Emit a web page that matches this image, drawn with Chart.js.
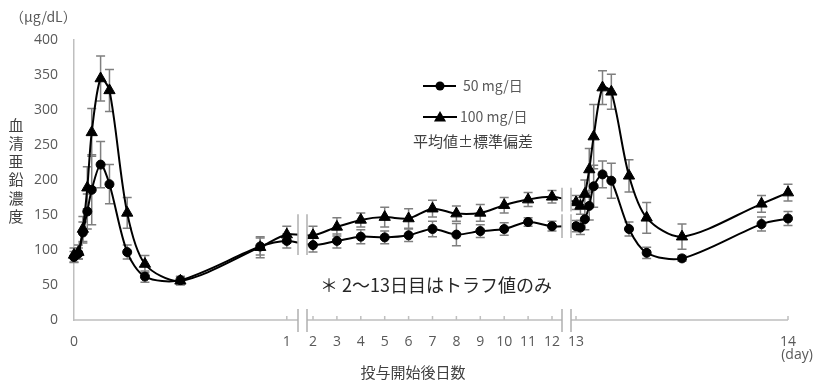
<!DOCTYPE html>
<html lang="ja">
<head>
<meta charset="utf-8">
<title>血清亜鉛濃度の推移</title>
<script src="https://cdn.jsdelivr.net/npm/chart.js@4.4.1/dist/chart.umd.min.js"></script>
<style>
    html, body { margin: 0; padding: 0; background: #fff; }
    #wrap { width: 817px; height: 386px; }
</style>
</head>
<body>
<div id="wrap"><canvas id="znChart" width="817" height="386"></canvas></div>
<script>
// --- DATA ---
// sampling times (hours after dose) on day 0 and again on day 13
const sampleHours = [0, 0.5, 1, 1.5, 2, 3, 4, 6, 8, 12, 21, 24];
// trough only on days 2-12
const troughDays = [2, 3, 4, 5, 6, 7, 8, 9, 10, 11, 12];

// 50 mg/day (mean, SD)
const mean50First  = [90, 95, 125, 155, 186, 222, 194, 97, 62, 57, 105, 113];
const sd50First    = [8, 8, 15, 25, 50, 33, 28, 10, 8, 5, 12, 10];
const mean50Trough = [107, 113, 119, 118, 121, 130, 122, 127, 130, 140, 134];
const sd50Trough   = [10, 10, 10, 9, 9, 11, 16, 9, 9, 6, 7];
const mean50Last   = [134, 132, 144, 163, 191, 208, 199, 130, 96, 88, 137, 145];
const sd50Last     = [8, 10, 15, 20, 30, 19, 25, 10, 8, 4, 10, 10];

// 100 mg/day (mean, SD)
const mean100First  = [93, 97, 130, 189, 268, 345, 328, 153, 80, 56, 104, 122];
const sd100First    = [10, 10, 18, 30, 34, 32, 30, 22, 12, 6, 15, 12];
const mean100Trough = [121, 133, 143, 147, 145, 159, 152, 153, 164, 172, 176];
const sd100Trough   = [13, 13, 10, 14, 14, 12, 11, 12, 11, 10, 9];
const mean100Last   = [168, 163, 180, 215, 262, 332, 326, 206, 146, 119, 166, 182];
const sd100Last     = [10, 12, 20, 30, 46, 24, 25, 23, 22, 18, 12, 12];

const seriesNames = ['50 mg/日', '100 mg/日'];
const tickDays   = [0, 1, 2, 3, 4, 5, 6, 7, 8, 9, 10, 11, 12, 13, 14];
const tickLabels = ['0', '1', '2', '3', '4', '5', '6', '7', '8', '9', '10', '11', '12', '13', '14'];
const yTicks = [0, 50, 100, 150, 200, 250, 300, 350, 400];

// --- BROKEN X AXIS ---
// day 0-1 and day 13-14 are stretched, days 2-12 squeezed together
function dayToAxis(day) {
    if (day <= 1) return day * 212.8;
    if (day <= 12) return 239 + (day - 2) * 23.9;
    return 502 + (day - 13) * 212;
}
const axisBreaks = [[224, 233], [488, 497]];

function buildPoints(first, trough, last) {
    const pts = [];
    sampleHours.forEach((h, i) => pts.push({ x: dayToAxis(h / 24), y: first[i] }));
    troughDays.forEach((d, i) => pts.push({ x: dayToAxis(d), y: trough[i] }));
    sampleHours.forEach((h, i) => pts.push({ x: dayToAxis(13 + h / 24), y: last[i] }));
    return pts;
}

const GRAY_TEXT = '#595959';
const AXIS_GRAY = '#bfbfbf';
const JP_FONT = '"Noto Sans CJK JP", "Noto Sans", sans-serif';
const NUM_FONT = '"Open Sans", "Noto Sans", sans-serif';

// --- PLUGINS ---
// error bars (mean ± SD), drawn behind the lines
const errorBarPlugin = {
    id: 'errorBars',
    beforeDatasetsDraw(chart) {
        const ctx = chart.ctx;
        const y = chart.scales.y;
        ctx.save();
        ctx.strokeStyle = '#7f7f7f';
        ctx.lineWidth = 1.5;
        chart.data.datasets.forEach((ds, i) => {
            chart.getDatasetMeta(i).data.forEach((pt, j) => {
                const top = y.getPixelForValue(ds.data[j].y + ds.sd[j]);
                const bot = y.getPixelForValue(ds.data[j].y - ds.sd[j]);
                ctx.beginPath();
                ctx.moveTo(pt.x, top); ctx.lineTo(pt.x, bot);
                ctx.moveTo(pt.x - 4.5, top); ctx.lineTo(pt.x + 4.5, top);
                ctx.moveTo(pt.x - 4.5, bot); ctx.lineTo(pt.x + 4.5, bot);
                ctx.stroke();
            });
        });
        ctx.restore();
    }
};

// white gaps + double bars where the x axis is broken, and the x axis itself
const axisBreakPlugin = {
    id: 'axisBreaks',
    afterDatasetsDraw(chart) {
        const ctx = chart.ctx;
        const area = chart.chartArea;
        const x = chart.scales.x;
        const y = chart.scales.y;
        // value ranges where the break bars are shown inside the plot
        const plotBars = [[[93, 151]], [[155, 189], [117, 151]]];
        ctx.save();
        ctx.fillStyle = '#fff';
        axisBreaks.forEach(b => {
            const x0 = x.getPixelForValue(b[0]);
            const x1 = x.getPixelForValue(b[1]);
            ctx.fillRect(x0, area.top - 10, x1 - x0, area.bottom - area.top + 9);
        });

        ctx.strokeStyle = AXIS_GRAY;
        ctx.lineWidth = 1.5;
        // axis line in three pieces
        const edges = [area.left];
        axisBreaks.forEach(b => edges.push(x.getPixelForValue(b[0]), x.getPixelForValue(b[1])));
        edges.push(area.right);
        ctx.beginPath();
        for (let k = 0; k < edges.length; k += 2) {
            ctx.moveTo(edges[k], area.bottom);
            ctx.lineTo(edges[k + 1], area.bottom);
        }
        // small inward tick marks
        tickDays.slice(1).forEach(d => {
            const px = x.getPixelForValue(dayToAxis(d));
            ctx.moveTo(px, area.bottom);
            ctx.lineTo(px, area.bottom - 4);
        });
        ctx.stroke();

        // break bars
        ctx.strokeStyle = '#b0b0b0';
        ctx.beginPath();
        axisBreaks.forEach((b, k) => {
            b.forEach(v => {
                const px = x.getPixelForValue(v);
                ctx.moveTo(px, area.bottom - 11);
                ctx.lineTo(px, area.bottom + 12);
                plotBars[k].forEach(r => {
                    ctx.moveTo(px, y.getPixelForValue(r[0]));
                    ctx.lineTo(px, y.getPixelForValue(r[1]));
                });
            });
        });
        ctx.stroke();
        ctx.restore();
    }
};

function drawTriangle(ctx, cx, cy, r) {
    ctx.beginPath();
    ctx.moveTo(cx, cy - r);
    ctx.lineTo(cx + r * 0.866, cy + r * 0.5);
    ctx.lineTo(cx - r * 0.866, cy + r * 0.5);
    ctx.closePath();
    ctx.fill();
}

// legend, axis titles and note
const textPlugin = {
    id: 'texts',
    afterDraw(chart) {
        const ctx = chart.ctx;
        ctx.save();
        ctx.fillStyle = '#000';
        ctx.strokeStyle = '#000';
        ctx.lineWidth = 2;

        // legend samples
        ctx.beginPath();
        ctx.moveTo(423, 86); ctx.lineTo(456, 86);
        ctx.moveTo(423, 117); ctx.lineTo(457, 117);
        ctx.stroke();
        ctx.beginPath();
        ctx.arc(440, 86, 4.5, 0, Math.PI * 2);
        ctx.fill();
        drawTriangle(ctx, 440, 118, 7);

        ctx.textBaseline = 'middle';
        ctx.textAlign = 'left';
        ctx.fillStyle = GRAY_TEXT;
        ctx.font = '14px ' + JP_FONT;
        ctx.fillText(seriesNames[0], 463, 86);
        ctx.fillText(seriesNames[1], 460, 117);
        ctx.fillStyle = '#404040';
        ctx.font = '15px ' + JP_FONT;
        ctx.fillText('平均値±標準偏差', 413, 141);

        // unit
        ctx.fillStyle = GRAY_TEXT;
        ctx.font = '14px ' + JP_FONT;
        ctx.fillText('（μg/dL）', 10, 17);

        // vertical y title
        ctx.fillStyle = '#404040';
        ctx.font = '15px ' + JP_FONT;
        ctx.textAlign = 'center';
        Array.from('血清亜鉛濃度').forEach((c, i) => ctx.fillText(c, 16, 125 + i * 18.2));

        // x title and unit
        ctx.fillText('投与開始後日数', 413, 372);
        ctx.fillStyle = GRAY_TEXT;
        ctx.font = '14px ' + NUM_FONT;
        ctx.fillText('(day)', 797, 355);

        // note on trough days
        ctx.fillStyle = '#262626';
        ctx.font = '18px ' + JP_FONT;
        ctx.textAlign = 'left';
        ctx.fillText('＊ 2～13日目はトラフ値のみ', 320, 285);
        ctx.restore();
    }
};

// --- CHART ---
const canvas = document.getElementById('znChart');
new Chart(canvas.getContext('2d'), {
    type: 'line',
    data: {
        datasets: [{
            label: seriesNames[0],
            data: buildPoints(mean50First, mean50Trough, mean50Last),
            sd: [...sd50First, ...sd50Trough, ...sd50Last],
            borderColor: '#000',
            backgroundColor: '#000',
            borderWidth: 2,
            pointStyle: 'circle',
            pointRadius: 4.5,
            pointBorderWidth: 1,
            tension: 0.3,
            clip: false
        }, {
            label: seriesNames[1],
            data: buildPoints(mean100First, mean100Trough, mean100Last),
            sd: [...sd100First, ...sd100Trough, ...sd100Last],
            borderColor: '#000',
            backgroundColor: '#000',
            borderWidth: 2,
            pointStyle: 'triangle',
            pointRadius: 6.5,
            pointBorderWidth: 1,
            tension: 0.3,
            clip: false
        }]
    },
    options: {
        responsive: false,
        animation: false,
        layout: { padding: { top: 40, right: 29, left: 0, bottom: 0 } },
        plugins: {
            legend: { display: false },
            tooltip: { enabled: false }
        },
        scales: {
            x: {
                type: 'linear',
                min: 0,
                max: dayToAxis(14),
                border: { display: false },
                grid: { display: false, drawTicks: false },
                afterBuildTicks: scale => {
                    scale.ticks = tickDays.map(d => ({ value: dayToAxis(d) }));
                },
                afterFit: scale => { scale.height = 66; },
                ticks: {
                    autoSkip: false,
                    maxRotation: 0,
                    padding: 14,
                    color: GRAY_TEXT,
                    font: { family: NUM_FONT, size: 14 },
                    callback: (value, index) => tickLabels[index]
                }
            },
            y: {
                min: 0,
                max: 400,
                border: { display: true, color: AXIS_GRAY, width: 1.5 },
                grid: { display: false, drawTicks: false },
                afterBuildTicks: scale => {
                    scale.ticks = yTicks.map(v => ({ value: v }));
                },
                afterFit: scale => { scale.width = 74; },
                ticks: {
                    padding: 16,
                    color: GRAY_TEXT,
                    font: { family: NUM_FONT, size: 14 }
                }
            }
        }
    },
    plugins: [errorBarPlugin, axisBreakPlugin, textPlugin]
});
</script>
</body>
</html>
